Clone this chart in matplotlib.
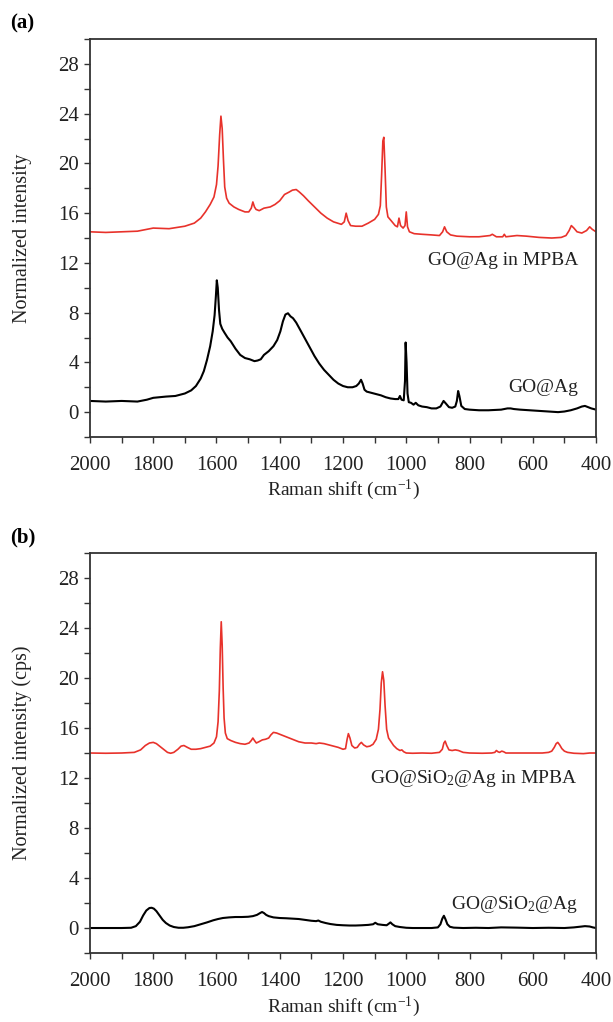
import numpy as np
import matplotlib
matplotlib.use("Agg")
import matplotlib.pyplot as plt
from matplotlib.ticker import MultipleLocator

plt.rcParams['font.family'] = ['Liberation Serif', 'DejaVu Serif']
plt.rcParams['mathtext.fontset'] = 'custom'
plt.rcParams['mathtext.rm'] = 'Liberation Serif'
plt.rcParams['mathtext.it'] = 'Liberation Serif:italic'

# ---- panel (a): GO@Ag in MPBA (red) ----
a_red_x = [2000, 1950, 1900, 1850, 1800, 1750, 1700, 1670, 1650, 1635, 1620, 1608, 1600, 1595,
           1590, 1586, 1582, 1578, 1574, 1568, 1560, 1545, 1530, 1510, 1498, 1490, 1485, 1480,
           1475, 1465, 1450, 1430, 1415, 1400, 1385, 1370, 1360, 1348, 1338, 1325, 1310, 1290,
           1270, 1250, 1230, 1205, 1196, 1190, 1184, 1176, 1160, 1140, 1120, 1100, 1088, 1082,
           1078, 1074, 1071, 1067, 1063, 1058, 1048, 1035, 1028, 1023, 1018, 1010, 1004, 1000,
           996, 990, 975, 950, 920, 895, 885, 879, 872, 860, 840, 800, 770, 735, 728, 715,
           695, 690, 685, 650, 620, 580, 540, 510, 495, 485, 478, 470, 460, 445, 430, 420,
           412, 400]
a_red_y = [14.5, 14.45, 14.5, 14.55, 14.8, 14.75, 14.95, 15.2, 15.6, 16.1, 16.7, 17.3, 18.3, 19.8,
           22.3, 23.8, 22.8, 20.3, 18.1, 17.2, 16.8, 16.5, 16.3, 16.1, 16.1, 16.4, 16.9, 16.5,
           16.3, 16.2, 16.4, 16.5, 16.7, 17.0, 17.5, 17.7, 17.85, 17.9, 17.7, 17.4, 17.0, 16.5,
           16.0, 15.6, 15.3, 15.1, 15.3, 16.0, 15.4, 15.0, 14.95, 14.95, 15.2, 15.5, 15.9, 16.6,
           19.0, 21.8, 22.1, 19.5, 16.5, 15.7, 15.4, 15.0, 14.9, 15.6, 15.0, 14.8, 15.0, 16.1,
           14.9, 14.5, 14.35, 14.3, 14.25, 14.2, 14.5, 14.9, 14.5, 14.25, 14.15, 14.1, 14.1, 14.2, 14.3, 14.1,
           14.1, 14.3, 14.1, 14.2, 14.15, 14.05, 14.0, 14.05, 14.2, 14.6, 15.0, 14.8, 14.5, 14.4, 14.6, 14.9,
           14.7, 14.5]

# ---- panel (a): GO@Ag (black) ----
a_blk_x = [2000, 1950, 1900, 1850, 1820, 1800, 1760, 1730, 1700, 1680, 1665, 1650, 1640, 1630,
           1620, 1612, 1606, 1602, 1599, 1596, 1592, 1588, 1582, 1575, 1565, 1555, 1540, 1525,
           1510, 1495, 1480, 1470, 1460, 1450, 1435, 1420, 1408, 1398, 1390, 1382, 1374, 1366,
           1358, 1348, 1335, 1320, 1305, 1290, 1275, 1260, 1245, 1230, 1215, 1200, 1185, 1170,
           1158, 1150, 1143, 1138, 1132, 1125, 1110, 1095, 1080, 1065, 1050, 1035, 1025, 1020,
           1015, 1008, 1004, 1002, 999, 996, 992, 985, 977, 970, 962, 950, 935, 920, 905, 892,
           882, 875, 865, 855, 845, 840, 836, 832, 826, 815, 800, 770, 740, 700, 680, 670, 660,
           640, 610, 580, 550, 520, 500, 480, 460, 445, 435, 425, 415, 400]
a_blk_y = [0.9, 0.85, 0.9, 0.85, 1.0, 1.15, 1.25, 1.3, 1.5, 1.75, 2.1, 2.7, 3.3, 4.2,
           5.3, 6.5, 7.8, 9.3, 10.6, 10.0, 8.2, 7.1, 6.7, 6.4, 6.0, 5.7, 5.1, 4.6,
           4.35, 4.25, 4.1, 4.15, 4.25, 4.6, 4.9, 5.3, 5.8, 6.5, 7.3, 7.85, 7.95, 7.7,
           7.55, 7.2, 6.6, 5.9, 5.2, 4.5, 3.9, 3.4, 3.0, 2.6, 2.3, 2.1, 2.0, 2.0,
           2.1, 2.3, 2.6, 2.3, 1.8, 1.65, 1.55, 1.45, 1.35, 1.2, 1.1, 1.05, 1.05, 1.3,
           1.0, 0.95, 2.5, 5.6, 4.0, 1.5, 0.8, 0.75, 0.6, 0.75, 0.55, 0.45, 0.4, 0.3, 0.3, 0.45,
           0.9, 0.7, 0.4, 0.35, 0.45, 0.9, 1.7, 1.3, 0.5, 0.25, 0.2, 0.15, 0.15, 0.2, 0.3, 0.3, 0.25,
           0.2, 0.15, 0.1, 0.05, 0.0, 0.05, 0.15, 0.3, 0.45, 0.5, 0.4, 0.3, 0.2]

# ---- panel (b): GO@SiO2@Ag in MPBA (red) ----
b_red_x = [2000, 1950, 1900, 1860, 1840, 1825, 1812, 1800, 1790, 1780, 1768, 1755, 1745, 1735,
           1722, 1712, 1703, 1692, 1680, 1665, 1650, 1635, 1620, 1608, 1600, 1595, 1591, 1588,
           1585, 1582, 1579, 1576, 1572, 1566, 1555, 1540, 1525, 1510, 1497, 1490, 1485, 1480,
           1474, 1466, 1455, 1445, 1435, 1428, 1420, 1410, 1400, 1385, 1370, 1355, 1340, 1320,
           1300, 1285, 1275, 1260, 1245, 1230, 1215, 1200, 1192, 1187, 1183, 1178, 1172, 1163,
           1155, 1148, 1142, 1135, 1125, 1115, 1105, 1095, 1088, 1083, 1079, 1075, 1071, 1067,
           1062, 1056, 1048, 1040, 1030, 1020, 1014, 1008, 1000, 980, 950, 920, 895, 886,
           881, 877, 872, 865, 855, 845, 835, 820,
           800, 760, 730, 720, 715, 710, 705, 698,
           692, 685, 670, 640, 600, 570, 550, 540,
           532, 526, 521, 515, 508, 500, 490, 470,
           440, 420, 400]
b_red_y = [14.0, 13.98, 14.0, 14.05, 14.25, 14.6, 14.8, 14.85, 14.75, 14.55, 14.3, 14.05, 13.98, 14.05,
           14.3, 14.55, 14.6, 14.45, 14.3, 14.3, 14.35, 14.45, 14.55, 14.8, 15.3, 16.5, 19.0, 22.3,
           24.5, 22.6, 19.2, 16.8, 15.6, 15.15, 15.0, 14.85, 14.75, 14.7, 14.8, 15.0, 15.2, 15.0,
           14.8, 14.9, 15.05, 15.1, 15.2, 15.45, 15.65, 15.6, 15.5, 15.35, 15.2, 15.05, 14.9, 14.8,
           14.8, 14.75, 14.8, 14.75, 14.65, 14.55, 14.45, 14.3, 14.35, 15.1, 15.55, 15.2, 14.6, 14.4,
           14.45, 14.7, 14.85, 14.65, 14.5, 14.55, 14.7, 15.1, 15.9, 17.5, 19.6, 20.5, 19.8, 17.8,
           15.9, 15.2, 14.9, 14.6, 14.35, 14.2, 14.25, 14.1, 14.0, 13.98, 14.0, 13.98, 14.05, 14.3,
           14.8, 14.95, 14.6, 14.25, 14.2, 14.25, 14.2, 14.05,
           14.0, 13.98, 14.0, 14.05, 14.2, 14.1, 14.05, 14.15,
           14.1, 14.0, 14.0, 14.0, 14.0, 14.0, 14.05, 14.15,
           14.45, 14.75, 14.85, 14.65, 14.35, 14.15, 14.05, 13.98,
           13.95, 14.0, 14.0]

# ---- panel (b): GO@SiO2@Ag (black) ----
b_blk_x = [2000, 1950, 1900, 1870, 1855, 1842, 1832, 1822, 1812, 1805, 1798, 1790, 1780, 1770,
           1760, 1748, 1735, 1720, 1705, 1690, 1670, 1650, 1630, 1610, 1595, 1580, 1560, 1540,
           1520, 1500, 1485, 1472, 1462, 1456, 1450, 1443, 1435, 1420, 1400, 1380, 1360, 1340,
           1320, 1300, 1285, 1278, 1270, 1255, 1240, 1220, 1200, 1180, 1160, 1140, 1120, 1105,
           1098, 1090, 1075, 1062, 1055, 1050, 1044, 1035, 1020, 1000, 980, 950, 920, 900,
           892, 886, 881, 876, 870, 862, 850, 820, 780, 740, 700, 650, 600, 550, 500, 470,
           445, 435, 420, 410, 400]
b_blk_y = [0.0, 0.0, 0.0, 0.02, 0.15, 0.5, 1.0, 1.4, 1.6, 1.62, 1.55, 1.35, 1.0, 0.65,
           0.4, 0.2, 0.08, 0.02, 0.02, 0.06, 0.15, 0.3, 0.45, 0.62, 0.72, 0.8, 0.85, 0.88,
           0.88, 0.9, 0.95, 1.05, 1.2, 1.28, 1.2, 1.05, 0.95, 0.85, 0.8, 0.78, 0.75, 0.72,
           0.65, 0.58, 0.55, 0.6, 0.5, 0.4, 0.32, 0.25, 0.22, 0.2, 0.2, 0.22, 0.25, 0.3,
           0.42, 0.3, 0.25, 0.22, 0.35, 0.45, 0.3, 0.15, 0.08, 0.02, 0.0, 0.0, 0.0, 0.05,
           0.3, 0.75, 0.98, 0.7, 0.3, 0.1, 0.03, 0.0, 0.02, 0.0, 0.05, 0.03, 0.0, 0.02, 0.0, 0.05,
           0.12, 0.15, 0.12, 0.05, 0.0]

red = '#e8322b'
fig = plt.figure(figsize=(6.13, 10.22), dpi=100)
ax_a = fig.add_axes([0.1468, 0.5724, 0.8255, 0.3894])
ax_b = fig.add_axes([0.1468, 0.0675, 0.8255, 0.3914])

panels = [
    (ax_a, a_red_x, a_red_y, a_blk_x, a_blk_y, 'GO@Ag in MPBA', 12.2, 'GO@Ag', 2.0,
     'Normalized intensity', '(a)'),
    (ax_b, b_red_x, b_red_y, b_blk_x, b_blk_y, 'GO@SiO$_2$@Ag in MPBA', 12.0, 'GO@SiO$_2$@Ag', 1.9,
     'Normalized intensity (cps)', '(b)'),
]

for ax, rx, ry, kx, ky, rlab, rly, klab, kly, ylab, tag in panels:
    ax.plot(rx, ry, color=red, lw=1.2)
    ax.plot(kx, ky, color='black', lw=1.5)
    ax.set_xlim(2000, 400)
    ax.set_ylim(-2, 30)
    ax.xaxis.set_major_locator(MultipleLocator(200))
    ax.xaxis.set_minor_locator(MultipleLocator(100))
    ax.yaxis.set_major_locator(MultipleLocator(4))
    ax.yaxis.set_minor_locator(MultipleLocator(2))
    ax.tick_params(which='both', direction='out', length=4.5, width=1.0, colors='#333333',
                   labelsize=15, labelcolor='#222222')
    ax.tick_params(axis='x', pad=9)
    for s in ax.spines.values():
        s.set_linewidth(1.3)
        s.set_color('#333333')
    ax.text(457, rly, rlab, ha='right', va='center', fontsize=14, color='#222222')
    ax.text(457, kly, klab, ha='right', va='center', fontsize=14, color='#222222')
    ax.set_xlabel('Raman shift (cm$^{-1}$)', fontsize=14, color='#222222')
    ax.xaxis.set_label_coords(0.5, -0.103)
    ax.set_ylabel(ylab, fontsize=14.5, color='#222222')
    ax.yaxis.set_label_coords(-0.115, 0.5)
    ax.text(-0.158, 1.04, tag, transform=ax.transAxes, fontsize=15, fontweight='bold',
            va='center', ha='left')

fig.savefig('out.png', dpi=100)
